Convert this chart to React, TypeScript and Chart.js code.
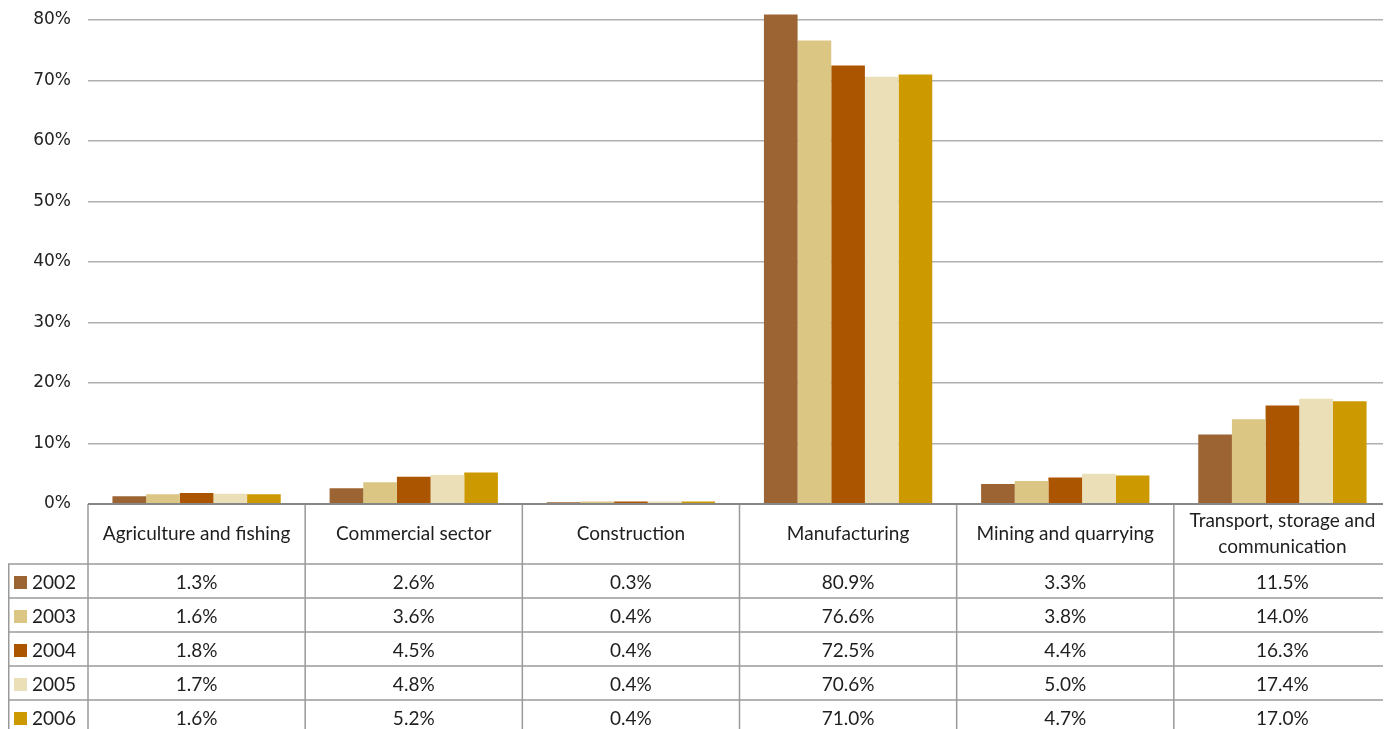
import React, { useEffect, useRef } from "react";
import { Chart, registerables } from "chart.js";

Chart.register(...registerables);

const categories: (string | string[])[] = [
  "Agriculture and fishing",
  "Commercial sector",
  "Construction",
  "Manufacturing",
  "Mining and quarrying",
  ["Transport, storage and", "communication"],
];

const years = ["2002", "2003", "2004", "2005", "2006"];

const values2002 = [1.3, 2.6, 0.3, 80.9, 3.3, 11.5];
const values2003 = [1.6, 3.6, 0.4, 76.6, 3.8, 14.0];
const values2004 = [1.8, 4.5, 0.4, 72.5, 4.4, 16.3];
const values2005 = [1.7, 4.8, 0.4, 70.6, 5.0, 17.4];
const values2006 = [1.6, 5.2, 0.4, 71.0, 4.7, 17.0];

const seriesValues = [values2002, values2003, values2004, values2005, values2006];
const colors = ["#9c6433", "#dcc684", "#ab5500", "#eadfb7", "#cc9a00"];

const yTicks = [0, 10, 20, 30, 40, 50, 60, 70, 80];

const TABLE_FONT = "19px Lato, 'Noto Sans', sans-serif";
const HEADER_H = 60;
const ROW_H = 34;

const tablePlugin = {
  id: "dataTable",
  afterDraw(chart: any) {
    const ctx = chart.ctx as CanvasRenderingContext2D;
    const area = chart.chartArea;
    const x = chart.scales.x;
    const n = categories.length;
    const colW = (x.getPixelForValue(1) - x.getPixelForValue(0));
    const top = area.bottom;
    const headerBottom = top + HEADER_H;
    const bottomEdge = chart.height + 20;
    const right = area.right - 1;

    ctx.save();
    ctx.strokeStyle = "#9a9a9a";
    ctx.lineWidth = 1.5;
    ctx.beginPath();
    for (let i = 0; i <= n; i++) {
      const bx = i === n ? right : x.getPixelForValue(i) - colW / 2;
      ctx.moveTo(bx, top);
      ctx.lineTo(bx, bottomEdge);
    }
    ctx.moveTo(0.75, headerBottom);
    ctx.lineTo(0.75, bottomEdge);
    for (let k = 0; k < years.length; k++) {
      const y = headerBottom + k * ROW_H;
      ctx.moveTo(0, y);
      ctx.lineTo(right, y);
    }
    ctx.stroke();

    ctx.strokeStyle = "#878787";
    ctx.lineWidth = 2;
    ctx.beginPath();
    ctx.moveTo(area.left, top);
    ctx.lineTo(right + 1, top);
    ctx.stroke();

    ctx.fillStyle = "#1e1e1e";
    ctx.font = TABLE_FONT;
    ctx.textAlign = "center";
    ctx.textBaseline = "middle";
    categories.forEach((c, i) => {
      const cx = x.getPixelForValue(i);
      const lines = Array.isArray(c) ? c : [c];
      const lh = 26;
      const cy = top + HEADER_H / 2;
      lines.forEach((ln, j) => {
        ctx.fillText(ln, cx, cy + (j - (lines.length - 1) / 2) * lh);
      });
    });
    seriesValues.forEach((vals, k) => {
      const cy = headerBottom + k * ROW_H + ROW_H / 2 + 2;
      vals.forEach((v, i) => {
        ctx.textAlign = "center";
        ctx.fillText(v.toFixed(1) + "%", x.getPixelForValue(i), cy);
      });
      ctx.fillStyle = colors[k];
      ctx.fillRect(6, cy - 7, 13, 13);
      ctx.fillStyle = "#1e1e1e";
      ctx.textAlign = "left";
      ctx.fillText(years[k], 24, cy);
    });
    ctx.restore();
  },
};

export default function App() {
  const ref = useRef<HTMLCanvasElement>(null);
  useEffect(() => {
    if (!ref.current) return;
    const chart = new Chart(ref.current, {
      type: "bar",
      data: {
        labels: categories as any,
        datasets: years.map((y, k) => ({
          label: y,
          data: seriesValues[k],
          backgroundColor: colors[k],
          borderWidth: 0,
          categoryPercentage: 0.775,
          barPercentage: 1.0,
          clip: false as any,
        })),
      },
      options: {
        responsive: false,
        animation: false,
        layout: { padding: { top: 12, bottom: 225, left: 0, right: 0 } },
        plugins: { legend: { display: false }, tooltip: { enabled: false } },
        scales: {
          x: { display: false },
          y: {
            min: 0,
            max: 80,
            afterBuildTicks: (s: any) => {
              s.ticks = yTicks.map((v) => ({ value: v }));
            },
            afterFit: (s: any) => {
              s.width = 80;
              s.paddingTop = 0;
              s.paddingBottom = 0;
            },
            border: { display: false },
            grid: {
              drawTicks: false,
              color: (c: any) => (c.tick && c.tick.value === 0 ? "rgba(0,0,0,0)" : "#b0b0b0"),
              lineWidth: 1.5,
            },
            ticks: {
              padding: 17,
              color: "#222",
              font: { family: "'DejaVu Sans', Verdana, sans-serif", size: 17 },
              callback: (v: any) => v + "%",
            },
          },
        },
      },
      plugins: [tablePlugin],
    });
    return () => chart.destroy();
  }, []);
  return <canvas ref={ref} width={1383} height={721} style={{ display: "block" }} />;
}
